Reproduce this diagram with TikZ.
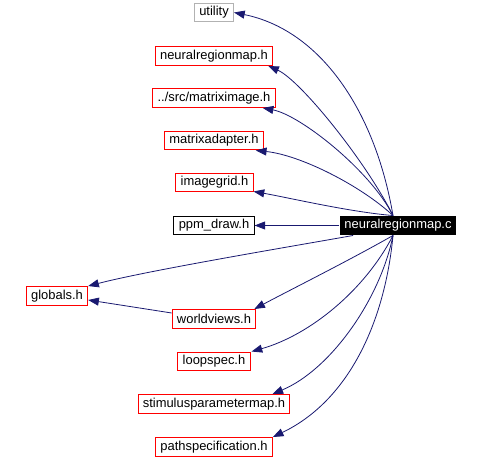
\documentclass[tikz,border=0pt]{standalone}
\usepackage{fontspec}
\setmainfont{Liberation Sans}
\usetikzlibrary{arrows.meta,calc}
\definecolor{edgeblue}{HTML}{191970}
\tikzset{
  box/.style={rectangle, line width=0.75pt, inner xsep=3.6pt, inner ysep=0pt,
    minimum height=14.2pt, font=\fontsize{9.7}{11}\selectfont},
  hfile/.style={box, draw=red},
  extfile/.style={box, draw=gray!60},
  docfile/.style={box, draw=black},
  srcfile/.style={box, fill=black, text=white},
  dep/.style={draw=edgeblue, line width=0.6pt,
    -{Triangle[length=8pt,width=6pt,fill=edgeblue]}}
}
\begin{document}
\begin{tikzpicture}[x=0.75pt,y=-0.75pt]
    \useasboundingbox (0,0) rectangle (481,459);
    % included headers
    \node[extfile] (util) at (214,12.5) {utility};
    \node[hfile] (nrmh) at (214,56) {neuralregionmap.h};
    \node[hfile] (mimg) at (214,98) {../src/matriximage.h};
    \node[hfile] (madp) at (214,140.5) {matrixadapter.h};
    \node[hfile] (ig) at (214.5,182.5) {imagegrid.h};
    \node[docfile] (ppm) at (214,225.5) {ppm\_draw.h};
    \node[srcfile] (src) at (398,225.5) {neuralregionmap.c};
    \node[hfile] (glob) at (57,296) {globals.h};
    \node[hfile] (wv) at (214,319) {worldviews.h};
    \node[hfile] (loop) at (214,361.5) {loopspec.h};
    \node[hfile] (stim) at (214,404) {stimulusparametermap.h};
    \node[hfile] (path) at (214,447) {pathspecification.h};
    \coordinate (top) at ($(src.north)+(-5,0)$);
    \coordinate (bot) at ($(src.south)+(-5,0)$);
    % edges
    \draw[dep] (top) .. controls (375,110) and (320,30) .. (util.east);
    \draw[dep] (top) .. controls (365,160) and (300,80) .. ($(nrmh.south east)+(-5,0)$);
    \draw[dep] (top) .. controls (370,170) and (300,115) .. ($(mimg.south east)+(-13,0)$);
    \draw[dep] (top) .. controls (360,185) and (300,155) .. ($(madp.south east)+(-8,0)$);
    \draw[dep] (top) .. controls (350,212) and (290,198) .. ($(ig.south east)+(0,-1)$);
    \draw[dep] (src.west) -- (ppm.east);
    \draw[dep] ($(src.south west)+(14,0)$) .. controls (300,245) and (150,270) .. (glob.north east);
    \draw[dep] (bot) .. controls (350,260) and (290,290) .. ($(wv.north east)+(-2,0)$);
    \draw[dep] ($(wv.west)+(0,-6)$) -- ($(glob.east)+(0,4)$);
    \draw[dep] (bot) .. controls (365,290) and (310,335) .. ($(loop.north east)+(1,0)$);
    \draw[dep] (bot) .. controls (380,300) and (330,370) .. ($(stim.north east)+(-18,0)$);
    \draw[dep] (bot) .. controls (385,320) and (350,400) .. (path.north east);
\end{tikzpicture}
\end{document}
